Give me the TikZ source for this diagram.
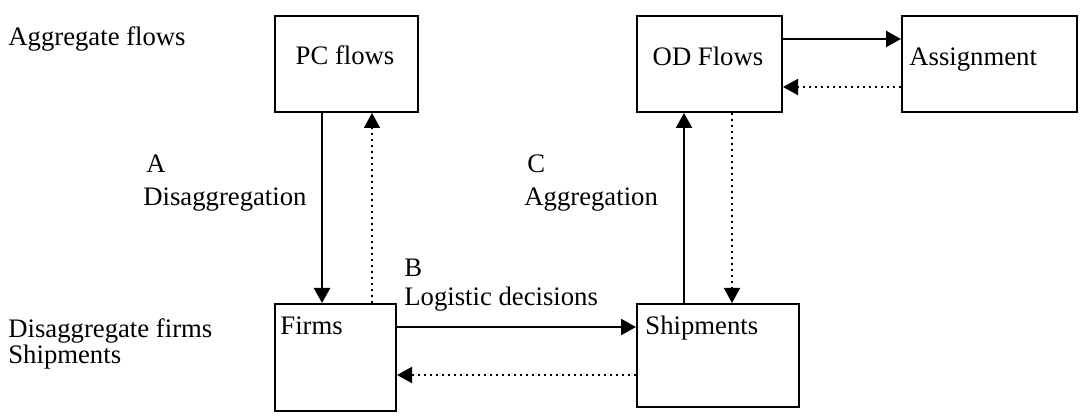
\documentclass[tikz,border=0pt]{standalone}
\usepackage{fontspec}
\setmainfont{Liberation Serif}
\usetikzlibrary{arrows.meta,calc}
\begin{document}
\begin{tikzpicture}[x=0.5pt,y=-0.5pt,
  box/.style={draw,line width=1pt,rectangle,inner sep=0pt,anchor=north west},
  lbl/.style={anchor=base west,inner sep=0pt,font=\fontsize{13.35}{16}\selectfont},
  solidarr/.style={line width=1.2pt,-{Triangle[length=7.5pt,width=8pt]}},
  dotarr/.style={line width=1pt,dash pattern=on 1pt off 2pt,-{Triangle[length=7.5pt,width=8pt]}}]
\useasboundingbox (0,0) rectangle (1080,416);
% boxes
\node[box,minimum width=71.5pt,minimum height=48pt] (pc) at (274,15) {};
\node[box,minimum width=72.5pt,minimum height=48pt] (od) at (636,15) {};
\node[box,minimum width=87.5pt,minimum height=48pt] (asg) at (901,15) {};
\node[box,minimum width=60.5pt,minimum height=53.5pt] (firms) at (274,303) {};
\node[box,minimum width=81pt,minimum height=51.5pt] (ship) at (636,303) {};
% box texts
\node[lbl,anchor=base] (tpc) at (345,65) {PC flows};
\node[lbl,anchor=base] (tod) at (708,66) {OD Flows};
\node[lbl] (tasg) at (909,66) {Assignment};
\node[lbl] (tfirms) at (280,335) {Firms};
\node[lbl] (tship) at (645,335) {Shipments};
% side labels
\node[lbl] (l1) at (8,46) {Aggregate flows};
\node[lbl] (l2) at (8,337) {Disaggregate firms};
\node[lbl] (l3) at (8,364) {Shipments};
\node[lbl] (la) at (146,173) {A};
\node[lbl] (la2) at (143,206) {Disaggregation};
\node[lbl] (lc) at (527,173) {C};
\node[lbl] (lc2) at (524,206) {Aggregation};
\node[lbl] (lb) at (404,277) {B};
\node[lbl] (lb2) at (404,306) {Logistic decisions};
% connectors
\draw[solidarr] ([xshift=24pt]pc.south west) -- ([xshift=24pt]firms.north west);
\draw[dotarr] ([xshift=49pt]firms.north west) -- ([xshift=49pt]pc.south west);
\draw[solidarr] ([xshift=24pt]ship.north west) -- ([xshift=24pt]od.south west);
\draw[dotarr] ([xshift=48pt]od.south west) -- ([xshift=48pt]ship.north west);
\draw[solidarr] ([yshift=-12pt]od.north east) -- ([yshift=-12pt]asg.north west);
\draw[dotarr] ([yshift=-36pt]asg.north west) -- ([yshift=-36pt]od.north east);
\draw[solidarr] ([yshift=-12pt]firms.north east) -- ([yshift=-12pt]ship.north west);
\draw[dotarr] ([yshift=-36pt]ship.north west) -- ([yshift=-36pt]firms.north east);
\end{tikzpicture}
\end{document}
